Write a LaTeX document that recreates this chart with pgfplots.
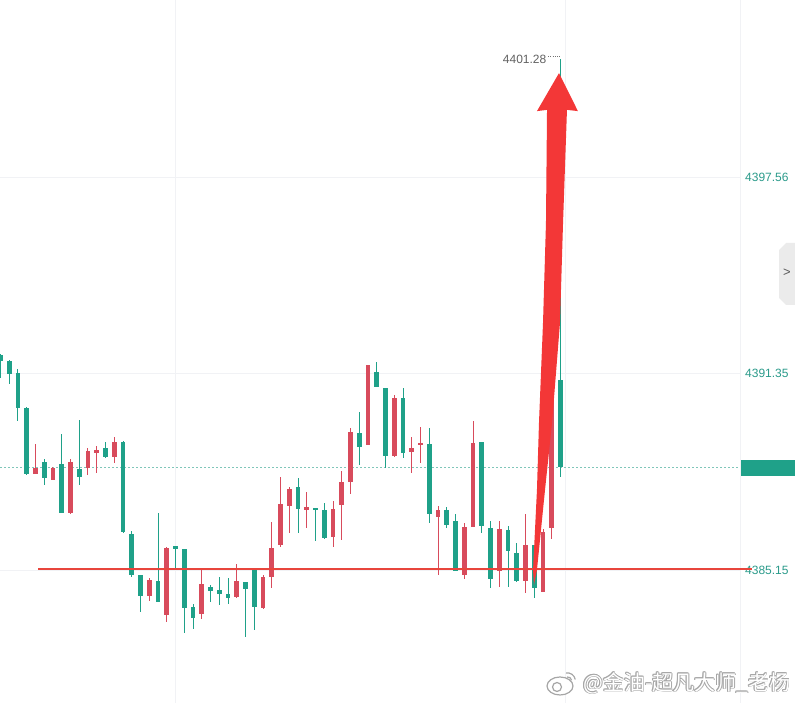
\documentclass[border=0pt]{standalone}
\usepackage{pgfplots}
\pgfplotsset{compat=1.18}
\usepackage{pgfplotstable}
\usepackage{fontspec}
\setmainfont{Liberation Sans}
\newfontfamily\cjk{Noto Sans CJK SC}
\definecolor{cgreen}{HTML}{1FA189}
\definecolor{cred}{HTML}{D84B5C}
\definecolor{arrowred}{HTML}{F33737}
\definecolor{lvl}{HTML}{E8453C}
\definecolor{tealtxt}{HTML}{2A9A8A}
\definecolor{gridc}{HTML}{F1F2F5}
\definecolor{pricedot}{HTML}{7FC6B9}

% green = falling candles (o > c)
\pgfplotstableread{
i o h l c
0 4391.94 4391.97 4391.21 4391.75
1 4391.75 4391.78 4391.02 4391.34
2 4391.37 4391.50 4389.86 4390.27
3 4390.27 4390.30 4388.15 4388.18
5 4388.56 4388.66 4387.83 4388.06
7 4388.50 4389.45 4386.95 4386.95
9 4388.34 4389.89 4387.83 4388.09
12 4389.00 4389.19 4388.69 4388.72
14 4389.19 4389.22 4386.32 4386.35
15 4386.29 4386.38 4384.93 4384.99
16 4384.99 4384.99 4383.82 4384.33
18 4384.80 4386.95 4384.14 4384.14
20 4385.91 4385.91 4385.21 4385.81
21 4385.81 4385.81 4383.16 4383.95
22 4383.98 4384.08 4383.29 4383.63
24 4384.61 4384.68 4384.14 4384.49
25 4384.52 4384.96 4384.08 4384.39
26 4384.39 4384.90 4384.08 4384.27
28 4384.77 4384.77 4383.03 4384.55
29 4385.18 4385.18 4383.26 4383.98
34 4387.77 4388.09 4386.35 4387.08
36 4387.11 4387.11 4386.07 4387.07
37 4387.05 4387.27 4386.13 4386.16
41 4389.48 4390.14 4388.47 4389.03
43 4391.40 4391.72 4390.93 4390.93
44 4390.90 4390.90 4388.37 4388.75
46 4390.58 4390.90 4388.69 4388.85
49 4389.13 4389.63 4386.63 4386.92
51 4387.05 4387.14 4386.48 4386.60
52 4386.70 4386.92 4385.12 4385.12
55 4389.19 4389.19 4386.32 4386.54
56 4386.48 4386.70 4384.58 4384.87
58 4386.41 4386.54 4384.61 4385.75
59 4385.69 4386.03 4384.80 4384.80
61 4385.94 4385.94 4384.27 4384.58
64 4391.15 4401.28 4388.09 4388.40
}\down

% red = rising candles (c > o)
\pgfplotstableread{
i o h l c
4 4388.21 4389.13 4388.21 4388.40
6 4388.02 4388.43 4388.02 4388.37
8 4386.98 4388.66 4386.92 4388.59
10 4388.40 4389.00 4388.15 4388.91
11 4388.85 4389.07 4388.21 4388.94
13 4388.72 4389.35 4388.53 4389.19
17 4384.33 4384.90 4384.17 4384.83
19 4383.73 4385.88 4383.51 4385.85
23 4383.76 4385.15 4383.60 4384.71
27 4384.30 4385.34 4384.27 4384.83
30 4383.95 4384.99 4383.92 4384.93
31 4384.96 4386.67 4384.58 4385.88
32 4385.94 4388.09 4385.88 4387.23
33 4387.17 4387.77 4386.32 4387.71
35 4387.05 4387.61 4386.48 4387.14
38 4386.19 4387.33 4385.88 4387.08
39 4387.20 4388.31 4386.13 4387.93
40 4387.93 4389.63 4387.55 4389.51
42 4389.10 4391.62 4389.10 4391.62
45 4388.75 4390.68 4388.72 4390.58
47 4388.88 4389.35 4388.21 4389.00
48 4389.10 4389.67 4388.53 4389.16
50 4386.82 4387.17 4384.99 4387.05
53 4384.99 4386.63 4384.87 4386.51
54 4386.51 4389.86 4386.51 4389.16
57 4385.12 4386.70 4384.61 4386.44
60 4384.80 4386.92 4384.42 4385.94
62 4384.46 4386.44 4384.46 4386.38
63 4386.48 4391.06 4386.13 4391.06
}\up

\begin{document}
\begin{tikzpicture}
\begin{axis}[
  at={(0pt,0pt)}, anchor=south west,
  scale only axis, width=740pt, height=703pt,
  xmin=-0.057, xmax=84.514, ymin=4380.95, ymax=4403.149,
  clip=false,
  axis line style={draw=none},
  major tick length=0pt, tick style={draw=none},
  xtick={19.94,64.51,84.51}, xticklabels={},
  ytick={4385.15,4391.35,4397.56},
  yticklabels={4385.15,4391.35,4397.56},
  yticklabel pos=right,
  yticklabel style={font=\fontsize{12}{14}\selectfont, text=tealtxt, anchor=west, inner sep=0pt, xshift=5pt},
  /pgf/number format/assume math mode=true,
  xmajorgrids, ymajorgrids,
  major grid style={draw=gridc, line width=0.8pt},
  candle/.style={draw=none, no markers, error bars/y dir=both, error bars/y explicit, error bars/error mark=none},
]
% current price dotted line
\addplot[draw=pricedot, line width=0.8pt, dash pattern=on 2pt off 2pt] coordinates {(-0.057,4388.40) (84.51,4388.40)};

% wicks
\addplot[candle, error bars/error bar style={line width=1pt, draw=cgreen, solid}]
  table[x=i, y expr={(\thisrow{h}+\thisrow{l})/2}, y error expr={(\thisrow{h}-\thisrow{l})/2}] {\down};
\addplot[candle, error bars/error bar style={line width=1pt, draw=cred, solid}]
  table[x=i, y expr={(\thisrow{h}+\thisrow{l})/2}, y error expr={(\thisrow{h}-\thisrow{l})/2}] {\up};
% bodies
\addplot[candle, error bars/error bar style={line width=4.8pt, draw=cgreen, solid}]
  table[x=i, y expr={(\thisrow{o}+\thisrow{c})/2}, y error expr={abs(\thisrow{o}-\thisrow{c})/2}] {\down};
\addplot[candle, error bars/error bar style={line width=4.8pt, draw=cred, solid}]
  table[x=i, y expr={(\thisrow{o}+\thisrow{c})/2}, y error expr={abs(\thisrow{o}-\thisrow{c})/2}] {\up};

% support level
\addplot[draw=lvl, line width=1.6pt] coordinates {(4.29,4385.18) (85.89,4385.18)};

% max label
\node[anchor=east, inner sep=0pt, text=black!62, font=\fontsize{12}{14}\selectfont] at (axis cs:62.4,4401.28) {4401.28};
\draw[black!55, line width=0.6pt, dash pattern=on 0.6pt off 1.6pt] (axis cs:62.6,4401.36) -- (axis cs:63.95,4401.36);

% hand-drawn arrow
\fill[arrowred] (axis cs:60.97,4384.68) -- (axis cs:60.86,4385.15) -- (axis cs:61.31,4387.68)
  -- (axis cs:61.54,4389.79) -- (axis cs:62.0,4392.95) -- (axis cs:62.34,4396.11)
  -- (axis cs:62.46,4399.68) -- (axis cs:61.31,4399.64) -- (axis cs:63.83,4400.84)
  -- (axis cs:65.99,4399.64) -- (axis cs:64.74,4399.68) -- (axis cs:64.29,4396.11)
  -- (axis cs:63.94,4392.95) -- (axis cs:63.03,4389.79) -- (axis cs:62.23,4387.68)
  -- (axis cs:61.31,4385.15) -- cycle;
\end{axis}

% current price box on the scale
\fill[cgreen] (741pt,227pt) rectangle (795pt,243pt);
% side button
\fill[black!8] (779pt,453pt) -- (786pt,460pt) -- (795pt,460pt) -- (795pt,398pt) -- (786pt,398pt) -- (779pt,405pt) -- cycle;
\node[text=black!65, font=\fontsize{13}{14}\selectfont] at (787pt,430pt) {>};

% watermark (white letters with a grey outline)
\foreach \dx/\dy in {0.8/0,-0.8/0,0/0.8,0/-0.8,0.6/0.6,-0.6/0.6,0.6/-0.6,-0.6/-0.6}{
  \node[anchor=west, inner sep=0pt, text=black!35, font=\cjk\fontsize{21}{24}\selectfont] at ([shift={(\dx pt,\dy pt)}]583pt,20pt) {@金油-超凡大师\_老杨};
}
\node[anchor=west, inner sep=0pt, text=white, font=\cjk\fontsize{21}{24}\selectfont] at (583pt,20pt) {@金油-超凡大师\_老杨};
\draw[black!35, line width=1.2pt, fill=white] (560pt,17pt) ellipse [x radius=13pt, y radius=9pt];
\draw[black!35, line width=1.2pt, fill=white] (557pt,16pt) circle [radius=4.5pt];
\draw[black!35, line width=1.2pt] (566pt,30pt) arc[start angle=100, end angle=10, radius=8pt];
\draw[black!35, line width=1.2pt] (567pt,26pt) arc[start angle=100, end angle=10, radius=4pt];

\pgfresetboundingbox
\useasboundingbox (0pt,0pt) rectangle (795pt,703pt);
\end{tikzpicture}
\end{document}
